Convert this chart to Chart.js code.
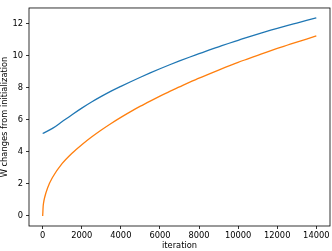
<!DOCTYPE html>
<html>
<head>
<meta charset="utf-8">
<script src="https://cdn.jsdelivr.net/npm/chart.js@4/dist/chart.umd.min.js"></script>
<style>
  html, body { margin: 0; padding: 0; background: #fff; }
  #c { display: block; }
</style>
</head>
<body>
<canvas id="c" width="332" height="251"></canvas>
<script>
const blueIterations = [0, 500, 1000, 1500, 2000, 2500, 3000, 3500, 4000, 4500, 5000, 5500, 6000, 6500, 7000, 7500, 8000, 8500, 9000, 9500, 10000, 10500, 11000, 11500, 12000, 12500, 13000, 13500, 14000];
const seriesBlue = [5.15, 5.47, 5.9, 6.33, 6.74, 7.12, 7.47, 7.8, 8.1, 8.39, 8.67, 8.94, 9.2, 9.45, 9.69, 9.92, 10.14, 10.36, 10.57, 10.78, 10.98, 11.18, 11.37, 11.55, 11.73, 11.9, 12.06, 12.22, 12.38];
const orangeIterations = [0, 25, 50, 100, 250, 500, 1000, 1500, 2000, 2500, 3000, 3500, 4000, 4500, 5000, 5500, 6000, 6500, 7000, 7500, 8000, 8500, 9000, 9500, 10000, 10500, 11000, 11500, 12000, 12500, 13000, 13500, 14000];
const seriesOrange = [0, 0.6, 0.85, 1.15, 1.75, 2.4, 3.28, 3.92, 4.45, 4.93, 5.37, 5.78, 6.16, 6.52, 6.86, 7.18, 7.49, 7.79, 8.07, 8.35, 8.61, 8.87, 9.12, 9.36, 9.6, 9.82, 10.04, 10.26, 10.47, 10.67, 10.87, 11.06, 11.25];
const xTicks = [0, 2000, 4000, 6000, 8000, 10000, 12000, 14000];
const yTicks = [0, 2, 4, 6, 8, 10, 12];
const xTitle = 'iteration';
const yTitle = 'W changes from initialization';

const FONT = { family: "'DejaVu Sans', sans-serif", size: 8.3 };

const frame = {
  id: 'frame',
  afterDatasetsDraw(chart) {
    const { ctx, chartArea: a } = chart;
    ctx.save();
    ctx.strokeStyle = '#000';
    ctx.lineWidth = 0.8;
    ctx.strokeRect(a.left, a.top, a.right - a.left, a.bottom - a.top);
    ctx.restore();
  }
};

new Chart(document.getElementById('c'), {
  type: 'line',
  data: {
    datasets: [
      {
        data: blueIterations.map((x, i) => ({ x, y: seriesBlue[i] })),
        borderColor: '#1f77b4',
        borderWidth: 1.3,
        pointRadius: 0,
        cubicInterpolationMode: 'monotone',
        fill: false
      },
      {
        data: orangeIterations.map((x, i) => ({ x, y: seriesOrange[i] })),
        borderColor: '#ff7f0e',
        borderWidth: 1.3,
        pointRadius: 0,
        cubicInterpolationMode: 'monotone',
        fill: false
      }
    ]
  },
  options: {
    responsive: false,
    animation: false,
    devicePixelRatio: 1,
    layout: { padding: { top: 1, right: 2, left: 0, bottom: 0 } },
    plugins: { legend: { display: false }, tooltip: { enabled: false } },
    scales: {
      x: {
        type: 'linear',
        min: -700,
        max: 14700,
        afterBuildTicks(s) { s.ticks = xTicks.map(v => ({ value: v })); },
        afterFit(s) { s.height = 25; },
        grid: { display: true, drawOnChartArea: false, drawTicks: true, tickLength: 3, color: '#000', lineWidth: 0.8 },
        border: { display: false },
        ticks: { color: '#000', font: FONT, padding: 2, maxRotation: 0, autoSkip: false, callback: v => String(v) },
        title: { display: true, text: xTitle, color: '#000', font: FONT, padding: 0 }
      },
      y: {
        type: 'linear',
        min: -0.63,
        max: 13.0,
        afterBuildTicks(s) { s.ticks = yTicks.map(v => ({ value: v })); },
        afterFit(s) { s.width = 29; },
        grid: { display: true, drawOnChartArea: false, drawTicks: true, tickLength: 3, color: '#000', lineWidth: 0.8 },
        border: { display: false },
        ticks: { color: '#000', font: FONT, padding: 3, autoSkip: false, callback: v => String(v) },
        title: { display: true, text: yTitle, color: '#000', font: FONT, padding: 0 }
      }
    }
  },
  plugins: [frame]
});
</script>
</body>
</html>
